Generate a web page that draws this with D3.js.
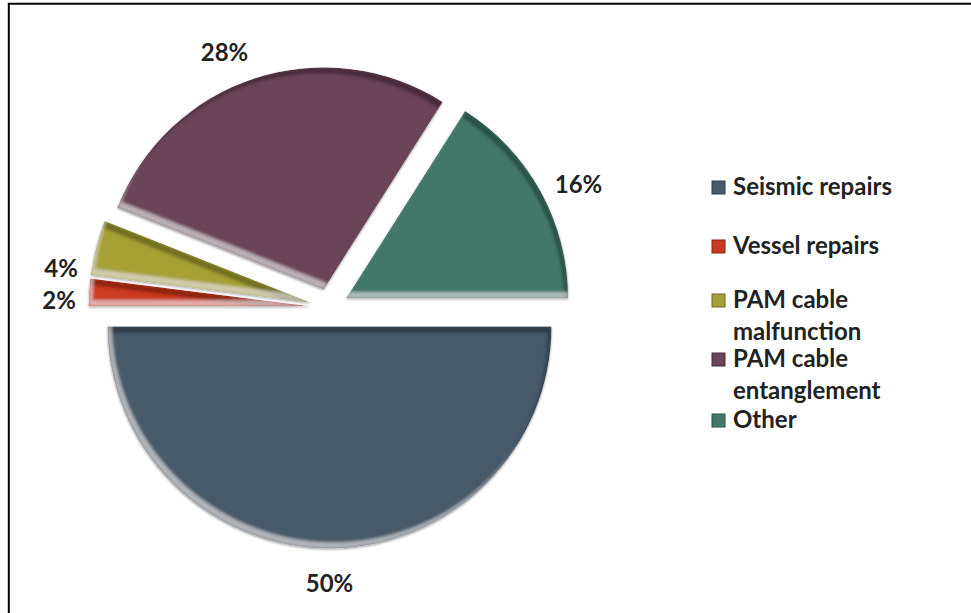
<!DOCTYPE html>
<html>
<head>
<meta charset="utf-8">
<script src="https://cdn.jsdelivr.net/npm/d3@7/dist/d3.min.js"></script>
<style>
  html, body { margin: 0; padding: 0; background: #fff; }
  svg { display: block; }
  text { font-family: Lato, "Open Sans", sans-serif; font-weight: 700; fill: #222; }
</style>
</head>
<body>
<svg id="chart" width="971" height="613"></svg>
<script>
// Causes of downtime, share of total (%)
const categories = ["Seismic repairs", "Vessel repairs", "PAM cable malfunction", "PAM cable entanglement", "Other"];
const values = [50, 2, 4, 28, 16];
const valueLabels = ["50%", "2%", "4%", "28%", "16%"];
const legendLines = [["Seismic repairs"], ["Vessel repairs"], ["PAM cable", "malfunction"], ["PAM cable", "entanglement"], ["Other"]];
const colors = ["#465a6b", "#cc3a22", "#a6a036", "#6b4459", "#43786b"];

const W = 971, H = 613;
const svg = d3.select("#chart");

// frame (open on the right and bottom)
svg.append("path")
  .attr("d", `M8.8,${H} V3.8 H${W}`)
  .attr("fill", "none").attr("stroke", "#000").attr("stroke-width", 2);

// bevel + soft shadow filter for the slices
const defs = svg.append("defs");
const f = defs.append("filter").attr("id", "bevel")
  .attr("x", "-10%").attr("y", "-10%").attr("width", "120%").attr("height", "120%");
f.html(`
  <feOffset in="SourceAlpha" dx="-4" dy="6" result="sh1"/>
  <feComposite in="SourceAlpha" in2="sh1" operator="out" result="rim1"/>
  <feGaussianBlur in="rim1" stdDeviation="1.8" result="rim1b"/>
  <feFlood flood-color="#000" flood-opacity="0.55" result="c1"/>
  <feComposite in="c1" in2="rim1b" operator="in" result="dark"/>
  <feOffset in="SourceAlpha" dx="4" dy="-6" result="sh2"/>
  <feComposite in="SourceAlpha" in2="sh2" operator="out" result="rim2"/>
  <feGaussianBlur in="rim2" stdDeviation="1.8" result="rim2b"/>
  <feFlood flood-color="#fff" flood-opacity="0.4" result="c2"/>
  <feComposite in="c2" in2="rim2b" operator="in" result="light"/>
  <feMerge result="m"><feMergeNode in="SourceGraphic"/><feMergeNode in="dark"/><feMergeNode in="light"/></feMerge>
  <feComposite in="m" in2="SourceAlpha" operator="in" result="clipped"/>
  <feGaussianBlur in="SourceAlpha" stdDeviation="1.2" result="blur"/>
  <feOffset in="blur" dx="0" dy="1" result="ob"/>
  <feFlood flood-color="#000" flood-opacity="0.4"/>
  <feComposite in2="ob" operator="in" result="shadow"/>
  <feMerge><feMergeNode in="shadow"/><feMergeNode in="clipped"/></feMerge>
`);

// pie geometry
const cx = 329.5, cy = 307.5, R = 222, explode = 19, labelDist = 256;
const pie = d3.pie().sort(null).value(d => d.value)
  .startAngle(Math.PI / 2).endAngle(Math.PI / 2 + 2 * Math.PI);
const arc = d3.arc().innerRadius(0).outerRadius(R);

const data = categories.map((c, i) => ({ cat: c, value: values[i], label: valueLabels[i], color: colors[i] }));
const arcs = pie(data);

arcs.forEach(a => {
  const mid = (a.startAngle + a.endAngle) / 2;
  a.ox = cx + explode * Math.sin(mid);
  a.oy = cy - explode * Math.cos(mid);
  a.mid = mid;
});

svg.append("g").selectAll("path.slice").data(arcs).join("path")
  .attr("class", "slice")
  .attr("transform", d => `translate(${d.ox},${d.oy})`)
  .attr("d", arc)
  .attr("fill", d => d.data.color)
  .attr("filter", "url(#bevel)");

// outside-end value labels, eased off the bisector where they would crowd
const nudge = {
  "Vessel repairs": [4, 9],
  "PAM cable malfunction": [-2, 28],
  "PAM cable entanglement": [-20, 6],
  "Other": [8, 8]
};
svg.append("g").selectAll("text").data(arcs).join("text")
  .attr("x", d => d.ox + labelDist * Math.sin(d.mid) + (nudge[d.data.cat] || [0, 0])[0])
  .attr("y", d => d.oy - labelDist * Math.cos(d.mid) + (nudge[d.data.cat] || [0, 0])[1])
  .attr("text-anchor", "middle")
  .attr("dominant-baseline", "central")
  .attr("font-size", 24)
  .text(d => d.data.label);

// legend
const legendX = 712, legendTextX = 733, lineGap = 32;
const legendBaselines = [195, 254, 308, 367, 428];
const lg = svg.append("g");
data.forEach((d, i) => {
  const by = legendBaselines[i];
  lg.append("rect")
    .attr("x", legendX).attr("y", by - 14).attr("width", 13).attr("height", 13)
    .attr("fill", d.color).attr("stroke", d3.color(d.color).darker(1.2)).attr("stroke-width", 1);
  legendLines[i].forEach((line, j) => {
    lg.append("text")
      .attr("x", legendTextX).attr("y", by + j * lineGap)
      .attr("font-size", 24)
      .text(line);
  });
});
</script>
</body>
</html>
